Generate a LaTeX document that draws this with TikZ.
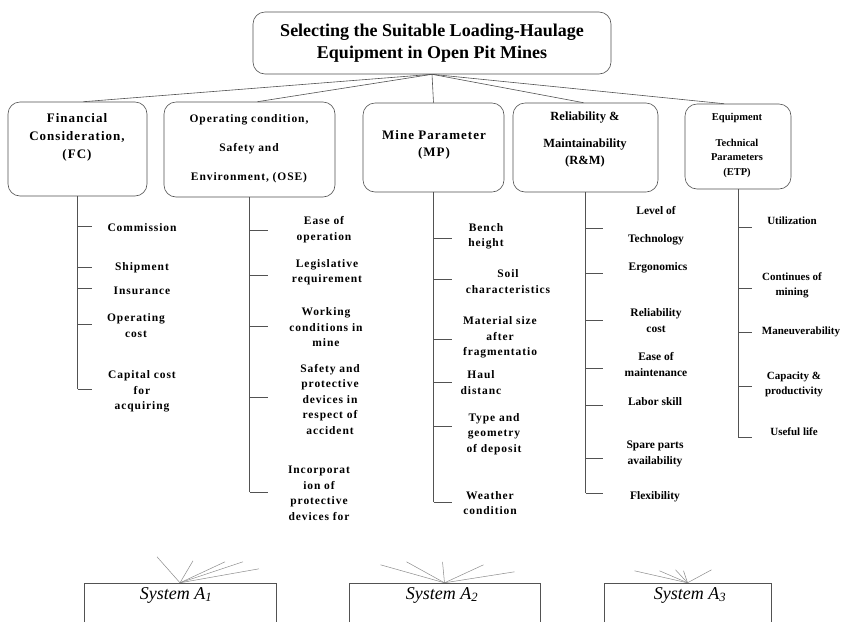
\documentclass[tikz,border=0pt]{standalone}
\usepackage{fontspec}
\setmainfont{Liberation Serif}
\newfontfamily\spaced[LetterSpace=8]{Liberation Serif}

% #1 box name, #2 tick length, #3 item style, #4 list: index/tick y/text x/text y/text
\newcommand\branchlist[4]{%
  \foreach \n/\ty/\x/\y/\t in {#4}{%
    \coordinate (#1-t\n) at (#1.south |- 0,\ty);
    \coordinate (#1-e\n) at ([xshift=#2]#1-t\n);
    \draw[line] (#1-t\n) -- (#1-e\n);
    \node[#3] (#1-i\n) at (\x,\y) {\t};
  }}

\begin{document}
\begin{tikzpicture}[x=1pt,y=-1pt,
  line/.style={draw=black!68, line width=0.6pt},
  frame/.style={line, rounded corners=12pt, inner sep=0pt},
  fan/.style={draw=black!45, line width=0.5pt},
  itemA/.style={inner sep=0pt, align=center, font=\spaced\bfseries\fontsize{11.5}{15.5}\selectfont},
  itemB/.style={inner sep=0pt, align=center, font=\bfseries\fontsize{11.5}{16}\selectfont},
  itemC/.style={inner sep=0pt, align=center, font=\bfseries\fontsize{11}{15}\selectfont},
  sysbox/.style={inner sep=0pt, minimum height=39pt},
  syslabel/.style={inner sep=0pt, font=\itshape\fontsize{18}{20}\selectfont}]

\fill[white] (0,0) rectangle (843,622);
\useasboundingbox (0,0) rectangle (843,622);

% title box
\node[frame, minimum width=358pt, minimum height=62pt, align=center,
      font=\bfseries\fontsize{18}{22}\selectfont] (top) at (432,43)
  {Selecting the Suitable Loading-Haulage\\Equipment in Open Pit Mines};

% criteria boxes
\node[frame, minimum width=139pt, minimum height=94pt] (fc)  at (77.5,149) {};
\node[frame, minimum width=171pt, minimum height=95pt] (ose) at (249.5,149.5) {};
\node[frame, minimum width=141pt, minimum height=89pt] (mp)  at (433.5,147.5) {};
\node[frame, minimum width=145pt, minimum height=89pt] (rm)  at (585.5,147.5) {};
\node[frame, minimum width=106pt, minimum height=85pt] (etp) at (738,146.5) {};

% criteria headings
\node[inner sep=0pt, align=center, font=\spaced\bfseries\fontsize{13}{18}\selectfont] (fc-h) at (77,137)
  {Financial\\Consideration,\\(FC)};
\node[inner sep=0pt, align=center, font=\spaced\bfseries\fontsize{11.5}{29}\selectfont] (ose-h) at (249,149)
  {Operating condition,\\Safety and\\Environment, (OSE)};
\node[inner sep=0pt, align=center, font=\spaced\bfseries\fontsize{13}{17}\selectfont] (mp-h) at (434,145)
  {Mine Parameter\\(MP)};
\node[inner sep=0pt, align=center, font=\bfseries\fontsize{12.5}{17}\selectfont] (rm-h) at (585,139.5)
  {Reliability \&\\[10pt]Maintainability\\(R\&M)};
\node[inner sep=0pt, align=center, font=\bfseries\fontsize{10.5}{14.5}\selectfont] (etp-h) at (737,145)
  {Equipment\\[11.5pt]Technical\\Parameters\\(ETP)};

% links from the goal to the criteria
\draw[line] (top.south) -- ([xshift=6pt]fc.north);
\draw[line] (top.south) -- ([xshift=8pt]ose.north);
\draw[line] (top.south) -- (mp.north);
\draw[line] (top.south) -- ([xshift=-2pt]rm.north);
\draw[line] (top.south) -- ([xshift=-14pt]etp.north);

% sub-criteria
\branchlist{fc}{14pt}{itemA}{
  1/226/142/228/Commission,
  2/267/142/268/Shipment,
  3/288/142/291/Insurance,
  4/324/136/325.5/{Operating\\cost},
  5/389/142/391.5/{Capital cost\\for\\acquiring}}
\draw[line] (fc.south) -- (fc-t5);

\branchlist{ose}{18pt}{itemA}{
  1/230/324/229.5/{Ease of\\operation},
  2/275/327/272/{Legislative\\requirement},
  3/326/326/327.5/{Working\\conditions in\\mine},
  4/397/330/399/{Safety and\\protective\\devices in\\respect of\\accident},
  5/492/319/493.5/{Incorporat\\ion of\\protective\\devices for}}
\draw[line] (ose.south) -- (ose-t5);

\branchlist{mp}{18pt}{itemA}{
  1/238/486/236.5/{Bench\\height},
  2/279/508/281.5/{Soil\\characteristics},
  3/339/500/337.5/{Material size\\after\\fragmentatio},
  4/382/481/382.5/{Haul\\distanc},
  5/426/494/434/{Type and\\geometry\\of deposit},
  6/502/490/503/{Weather\\condition}}
\draw[line] (mp.south) -- (mp-t6);

\branchlist{rm}{17pt}{itemB}{
  1/228/656/226/{Level of\\[12pt]Technology},
  2/273/658/268/Ergonomics,
  3/320/656/321/{Reliability\\cost},
  4/368/656/364/{Ease of\\maintenance},
  5/405/655/402/{Labor skill},
  6/458/655/453.5/{Spare parts\\availability},
  7/493/655/497/Flexibility}
\draw[line] (rm.south) -- (rm-t7);

\branchlist{etp}{14pt}{itemC}{
  1/227/792/221/Utilization,
  2/288/792/285.5/{Continues of\\mining},
  3/332/801/332/Maneuverability,
  4/386/794/384.5/{Capacity \&\\productivity},
  5/437/794/432/{Useful life}}
\draw[line] (etp.south) -- (etp-t5);

% alternatives
\node[sysbox, minimum width=192pt] (sys1) at (180,602.5) {};
\node[sysbox, minimum width=191pt] (sys2) at (444.5,602.5) {};
\node[sysbox, minimum width=167pt] (sys3) at (687.5,602.5) {};
\foreach \s in {sys1,sys2,sys3}
  \draw[line] (\s.south west) -- (\s.north west) -- (\s.north east) -- (\s.south east);
\node[syslabel] (sys1-l) at (176,595) {System A\textsubscript{1}};
\node[syslabel] (sys2-l) at (442,595) {System A\textsubscript{2}};
\node[syslabel] (sys3-l) at (690,595) {System A\textsubscript{3}};

% incoming links on each alternative
\foreach \k/\dx/\dy in {1/-23/-26, 2/13/-22, 3/45/-21, 4/63/-21, 5/79/-14}{
  \coordinate (sys1-f\k) at ([shift={(\dx,\dy)}]sys1.north);
  \draw[fan] (sys1.north) -- (sys1-f\k);}
\foreach \k/\dx/\dy in {1/-64/-18, 2/-38/-21, 3/-2/-21, 4/39/-18, 5/70/-11}{
  \coordinate (sys2-f\k) at ([shift={(\dx,\dy)}]sys2.north);
  \draw[fan] (sys2.north) -- (sys2-f\k);}
\foreach \k/\dx/\dy in {1/-53/-12, 2/-28/-12, 3/-12/-13, 4/-4/-12, 5/24/-13}{
  \coordinate (sys3-f\k) at ([shift={(\dx,\dy)}]sys3.north);
  \draw[fan] (sys3.north) -- (sys3-f\k);}

\end{tikzpicture}
\end{document}
